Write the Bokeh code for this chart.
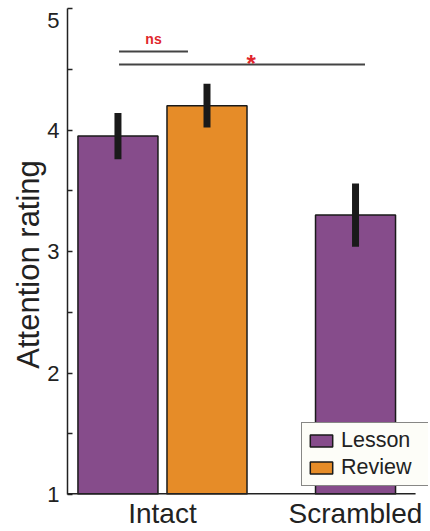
from bokeh.plotting import figure
from bokeh.models import ColumnDataSource, FixedTicker, Legend, LegendItem, Range1d
from bokeh.core.properties import value
from bokeh.embed import file_html
from bokeh.resources import INLINE

# Mean attention ratings with error bar limits
conditions = ["Intact", "Scrambled"]
condition_pos = [1.0, 2.0]
lesson_mean = [3.95, 3.30]
lesson_low = [3.76, 3.04]
lesson_high = [4.14, 3.56]
review_mean = [4.20]
review_low = [4.02]
review_high = [4.38]

# Significance annotations
sig_labels = ["ns", "*"]
sig_x0 = [0.775, 0.775]
sig_x1 = [1.132, 2.049]
sig_y = [4.646, 4.539]

y_ticks = [1, 2, 3, 4, 5]
y_tick_marks = [1, 1.5, 2, 2.5, 3, 3.5, 4, 4.5, 5]

FONT = "Liberation Sans"
PURPLE = "#864C8B"
ORANGE = "#E68C28"
RED = "#E0262C"
INK = "#222222"

offset = 0.2306
bar_w = 0.4145
x_lo, x_axis_end, x_hi = 0.508, 2.311, 2.378

# Intact has both sessions side by side; Scrambled only has a Lesson bar
lesson_x = [condition_pos[0] - offset, condition_pos[1]]
review_x = [condition_pos[0] + offset]

p = figure(width=430, height=531, output_backend="svg", toolbar_location=None,
           x_range=Range1d(x_lo, x_hi), y_range=Range1d(1, 5),
           min_border_left=67, min_border_right=2, min_border_top=8, min_border_bottom=37)
p.outline_line_color = None
p.background_fill_color = "white"
p.border_fill_color = "white"
p.xgrid.visible = False
p.ygrid.visible = False

lesson_src = ColumnDataSource(dict(x=lesson_x, top=lesson_mean, lo=lesson_low, hi=lesson_high))
review_src = ColumnDataSource(dict(x=review_x, top=review_mean, lo=review_low, hi=review_high))

r_lesson = p.vbar(x="x", top="top", bottom=1, width=bar_w, source=lesson_src,
                  fill_color=PURPLE, line_color="#1a1a1a", line_width=1.5)
r_review = p.vbar(x="x", top="top", bottom=1, width=bar_w, source=review_src,
                  fill_color=ORANGE, line_color="#1a1a1a", line_width=1.5)

for src in (lesson_src, review_src):
    p.segment(x0="x", x1="x", y0="lo", y1="hi", source=src,
              line_color="#1a1a1a", line_width=7)

# Baseline along the bottom, stopping short of the legend's right edge
p.segment(x0=[x_lo], x1=[x_axis_end], y0=[1], y1=[1], line_color=INK, line_width=3)

# Significance brackets
p.segment(x0=sig_x0, x1=sig_x1, y0=sig_y, y1=sig_y, line_color="#444444", line_width=2.2)
p.text(x=[(sig_x0[0] + sig_x1[0]) / 2], y=[sig_y[0] + 0.04], text=[sig_labels[0]],
       text_font=value(FONT), text_font_size="14px", text_font_style="bold",
       text_color=RED, text_align="center", text_baseline="bottom")
p.text(x=[1.459], y=[sig_y[1] + 0.01], text=[sig_labels[1]],
       text_font=value(FONT), text_font_size="24px", text_font_style="bold",
       text_color=RED, text_align="center", text_baseline="middle")

# Axes
p.xaxis.ticker = FixedTicker(ticks=condition_pos)
p.xaxis.major_label_overrides = {pos: name for pos, name in zip(condition_pos, conditions)}
p.xaxis.major_tick_line_color = None
p.xaxis.minor_tick_line_color = None
p.xaxis.major_tick_out = 0
p.xaxis.major_tick_in = 0
p.xaxis.minor_tick_out = 0
p.xaxis.axis_line_color = None
p.xaxis.major_label_text_font = FONT
p.xaxis.major_label_text_font_size = "28px"
p.xaxis.major_label_text_color = INK
p.xaxis.major_label_standoff = 3

# Tick marks every half point are drawn as minor ticks; the top label is
# nudged just below its tick so that it stays on the page.
top_label_pos = y_ticks[-1] - 0.1
label_pos = y_ticks[:-1] + [top_label_pos]
p.yaxis.ticker = FixedTicker(ticks=label_pos, minor_ticks=y_tick_marks)
p.yaxis.major_label_overrides = {top_label_pos: str(y_ticks[-1])}
p.yaxis.axis_line_color = INK
p.yaxis.axis_line_width = 1.5
p.yaxis.major_tick_line_color = None
p.yaxis.major_tick_in = 0
p.yaxis.major_tick_out = 0
p.yaxis.minor_tick_in = 5
p.yaxis.minor_tick_out = 0
p.yaxis.minor_tick_line_color = INK
p.yaxis.minor_tick_line_width = 1.5
p.yaxis.major_label_text_font = FONT
p.yaxis.major_label_text_font_size = "22px"
p.yaxis.major_label_text_color = INK
p.yaxis.major_label_standoff = 8
p.yaxis.axis_label = "Attention rating\u00a0\u00a0\u00a0"
p.yaxis.axis_label_text_font = FONT
p.yaxis.axis_label_text_font_size = "31px"
p.yaxis.axis_label_text_font_style = "normal"
p.yaxis.axis_label_text_color = INK
p.yaxis.axis_label_standoff = -2

legend = Legend(items=[LegendItem(label="Lesson", renderers=[r_lesson]),
                       LegendItem(label="Review", renderers=[r_review])],
                location=(234, 8), orientation="vertical")
legend.label_text_font = FONT
legend.label_text_font_size = "21.5px"
legend.label_text_color = INK
legend.glyph_width = 28
legend.glyph_height = 15
legend.label_height = 15
legend.label_width = 84
legend.label_standoff = 6
legend.spacing = 2
legend.padding = 5
legend.margin = 0
legend.border_line_color = "#111111"
legend.border_line_width = 1.5
legend.background_fill_color = "#FDFDF8"
legend.background_fill_alpha = 1.0
p.add_layout(legend, "center")

open("out.html", "w").write(file_html(p, INLINE))
